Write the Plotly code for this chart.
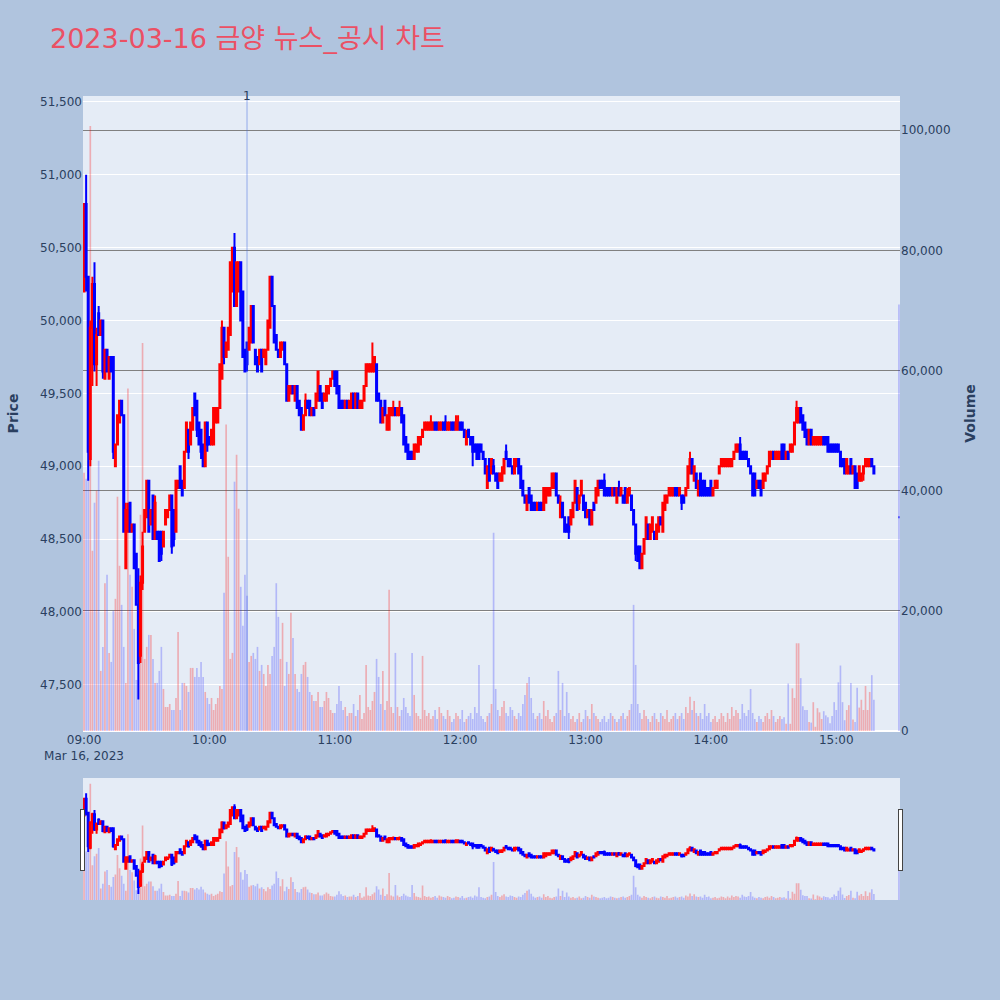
import pandas as pd
import plotly.graph_objects as go

# ---------------- data ----------------
trade_date = "2023-03-16"
title_text = "2023-03-16 금양 뉴스_공시 차트"
news_time = "2023-03-16 10:18"
news_label = "1"

# 09:00 - 11:07
opens_a = [50200,50800,50300,49050,49950,50250,49700,50050,49900,50000,
           49600,49800,49600,49750,49750,49000,49150,49300,49450,49350,
           48300,48550,48750,48550,48600,48400,48050,47700,48200,48550,
           48650,48900,48600,48800,48500,48550,48550,48550,48450,48600,
           48650,48700,48800,48700,48550,48850,49000,48900,48850,49100,
           49250,49150,49250,49500,49450,49300,49250,49150,49000,49300,
           49200,49150,49150,49300,49300,49400,49600,49950,49750,49800,
           49900,50200,50500,50100,50200,50400,50200,49800,49850,49800,
           49850,50100,49800,49750,49700,49800,49750,49700,49800,49950,
           50300,50100,49900,49800,49750,49800,49850,49700,49450,49500,
           49550,49450,49550,49450,49400,49250,49350,49450,49450,49350,
           49400,49400,49450,49550,49500,49450,49450,49500,49550,49600,
           49650,49650,49550,49450,49450,49400,49450,49400]
highs_a = [50800,51000,50300,50000,50300,50400,49950,50100,50000,50000,
           49800,49800,49750,49750,49750,49150,49350,49450,49450,49350,
           48750,48750,48750,48600,48600,48400,48300,48250,48550,48700,
           48900,48900,48700,48800,48800,48550,48550,48550,48550,48700,
           48700,48800,48800,48700,48900,48900,49000,48900,49100,49300,
           49250,49300,49400,49500,49450,49300,49250,49150,49300,49300,
           49200,49250,49400,49400,49400,49700,50000,49950,49850,49950,
           50400,50500,50600,50400,50400,50400,50200,49800,49850,49950,
           50100,50100,49800,49750,49800,49800,49800,49800,50000,50300,
           50300,50100,49900,49800,49850,49850,49850,49700,49550,49550,
           49550,49550,49550,49450,49400,49350,49500,49450,49450,49400,
           49400,49500,49650,49550,49500,49500,49550,49550,49600,49650,
           49650,49650,49550,49450,49450,49450,49450,49450]
lows_a = [50200,50200,48900,49000,49550,49650,49550,49900,49900,49600,
          49600,49650,49600,49650,49050,49000,49150,49300,49350,48550,
          48300,48550,48550,48550,48300,48050,47400,47650,48150,48550,
          48650,48550,48600,48500,48500,48500,48350,48350,48450,48600,
          48650,48700,48400,48450,48550,48850,48850,48800,48850,49100,
          49050,49150,49250,49350,49200,49150,49050,49000,49000,49100,
          49150,49150,49150,49300,49300,49400,49600,49700,49750,49800,
          49900,50200,50100,50100,50200,50000,49750,49650,49650,49800,
          49850,49850,49700,49650,49700,49650,49750,49700,49800,49950,
          50100,49850,49800,49750,49750,49800,49700,49450,49450,49500,
          49500,49450,49400,49350,49250,49250,49350,49400,49350,49350,
          49350,49400,49450,49450,49400,49450,49450,49500,49550,49600,
          49550,49500,49400,49400,49400,49400,49400,49400]
closes_a = [50800,50300,49100,49950,50250,49700,49900,49900,50000,49650,
            49800,49650,49750,49650,49100,49150,49350,49450,49350,48550,
            48700,48700,48550,48600,48300,48050,47650,48200,48450,48700,
            48900,48550,48700,48500,48750,48500,48350,48400,48550,48700,
            48700,48800,48450,48500,48900,48900,48850,48800,49100,49300,
            49100,49300,49400,49350,49250,49150,49100,49000,49300,49150,
            49150,49250,49400,49400,49400,49700,49950,49750,49850,49950,
            50400,50500,50100,50400,50400,50000,49750,49650,49700,49950,
            50100,49850,49700,49650,49800,49650,49800,49800,50000,50300,
            50100,49850,49800,49750,49850,49850,49700,49450,49550,49550,
            49500,49550,49400,49350,49250,49350,49450,49400,49350,49400,
            49350,49500,49650,49450,49400,49500,49550,49550,49600,49650,
            49550,49500,49400,49400,49400,49450,49400,49450]
volumes_a = [43000,42000,45000,100700,30000,38000,40000,45000,10000,14000,
             24600,26000,13000,11500,20000,22000,39000,27500,21000,14000,
             8000,57000,26000,24000,17000,8500,8500,36000,64600,12000,
             14000,16000,16000,12000,8000,8000,10000,14000,7000,4000,
             4000,4500,3500,3500,5500,16500,3500,8000,8000,7500,
             6500,10500,10500,9000,10500,9000,11500,9000,6500,5500,
             4500,5500,3500,4500,5500,7500,7000,23000,51000,29000,
             12000,13000,41500,46000,37000,24000,17500,26000,22500,11500,
             12500,13000,12000,14000,10000,11000,9500,7500,11000,9500,
             12500,14000,24600,19000,12000,18000,7500,11500,9500,19700,
             15500,9500,7000,6500,9500,11000,11500,9000,6500,6000,
             5000,5000,6500,4000,4000,5000,6500,5500,3500,3000,
             3000,4500,7500,5000,3500,4000,2500,3000]

# 11:08 - 13:23
opens_b = [49400,49500,49400,49500,49400,49400,49450,49550,49650,49650,
           49650,49650,49700,49500,49450,49300,49450,49250,49250,49350,
           49350,49400,49350,49350,49400,49350,49200,49150,49100,49100,
           49050,49100,49100,49150,49200,49250,49250,49250,49250,49250,
           49300,49300,49250,49250,49300,49300,49250,49250,49300,49300,
           49250,49250,49300,49300,49250,49150,49250,49200,49200,49150,
           49150,49150,49150,49100,49050,48850,49050,48950,49000,48950,
           48950,48900,48900,48950,49100,49050,49050,49000,48950,49000,
           49050,49000,48900,48800,48700,48850,48800,48750,48750,48700,
           48750,48750,48700,48750,48800,48800,48850,48850,48950,48800,
           48650,48750,48650,48600,48650,48600,48650,48750,48850,48750,
           48800,48800,48750,48650,48700,48600,48750,48750,48800,48900,
           48900,48900,48850,48850,48850,48800,48850,48750,48850,48800,
           48800,48850,48750,48800,48800,48700]
highs_b = [49500,49500,49500,49500,49450,49450,49550,49700,49700,49700,
           49850,49750,49700,49500,49450,49400,49450,49350,49400,49400,
           49450,49400,49400,49450,49400,49350,49200,49150,49100,49100,
           49150,49150,49200,49200,49250,49300,49300,49300,49350,49300,
           49300,49300,49300,49300,49300,49350,49300,49300,49300,49300,
           49350,49350,49300,49300,49250,49250,49250,49200,49200,49150,
           49150,49150,49150,49100,49050,49000,49050,49050,49050,48950,
           48950,48950,49000,49050,49150,49050,49050,49000,49050,49050,
           49050,49000,48900,48800,48800,48850,48800,48750,48750,48750,
           48750,48750,48850,48850,48850,48850,48950,48950,48950,48800,
           48800,48750,48650,48600,48650,48700,48750,48900,48850,48800,
           48900,48800,48750,48700,48700,48700,48750,48850,48900,48900,
           48900,48950,48850,48850,48850,48850,48850,48850,48900,48850,
           48800,48850,48850,48850,48800,48700]
lows_b = [49400,49400,49400,49400,49400,49400,49450,49550,49650,49650,
          49650,49650,49450,49450,49300,49300,49350,49250,49250,49350,
          49350,49350,49350,49350,49300,49150,49100,49050,49050,49050,
          49050,49100,49100,49150,49200,49250,49250,49250,49250,49250,
          49250,49250,49250,49250,49250,49250,49250,49250,49250,49250,
          49250,49250,49250,49250,49200,49150,49200,49150,49000,49100,
          49050,49050,49100,49050,48950,48850,48900,48950,48950,48900,
          48850,48900,48900,48950,49050,49000,49000,48950,48950,49000,
          48950,48850,48800,48750,48700,48750,48700,48700,48700,48700,
          48700,48700,48700,48750,48800,48800,48850,48850,48800,48750,
          48650,48650,48550,48550,48500,48600,48650,48750,48700,48700,
          48800,48700,48650,48650,48600,48600,48700,48750,48800,48850,
          48850,48800,48800,48800,48800,48800,48800,48750,48800,48800,
          48750,48750,48750,48800,48700,48600]
closes_b = [49500,49400,49500,49400,49450,49450,49550,49700,49700,49700,
            49700,49750,49450,49450,49300,49400,49350,49350,49400,49400,
            49400,49350,49400,49400,49300,49150,49100,49050,49050,49050,
            49150,49150,49200,49200,49250,49300,49300,49300,49300,49300,
            49250,49250,49300,49300,49250,49250,49300,49300,49250,49250,
            49300,49300,49250,49250,49200,49200,49200,49150,49100,49100,
            49050,49050,49100,49050,48950,49000,48900,49050,48950,48900,
            48850,48950,48950,49050,49050,49000,49000,48950,49050,49050,
            48950,48850,48800,48750,48800,48750,48700,48700,48700,48750,
            48700,48700,48850,48850,48850,48850,48950,48950,48800,48750,
            48750,48650,48550,48550,48550,48700,48750,48900,48700,48800,
            48900,48700,48650,48700,48600,48700,48700,48850,48900,48850,
            48850,48800,48800,48800,48800,48850,48800,48850,48800,48850,
            48750,48750,48800,48850,48700,48600]
volumes_b = [3000,4500,2500,3500,6000,2000,3000,11000,4000,3500,
             5000,6500,12000,9000,4500,10000,3500,5000,23500,4000,
             3000,13000,4000,2500,3500,5500,4000,3000,2500,13000,
             6000,3000,2500,2000,12500,3500,2500,3000,2000,2500,
             3500,2000,4000,3000,2500,2000,3500,2500,1500,2000,
             3000,2500,2000,3500,1500,2000,2500,3000,2000,4000,
             3000,11000,2500,2000,1500,2500,3000,4500,33000,7000,
             3500,2500,4000,5000,3000,2500,4000,3500,2500,2000,
             3000,2500,4500,6000,8000,9000,5500,3000,2000,2500,
             3000,2000,5000,2500,3500,2000,1500,2500,3000,10000,
             3500,8000,2500,6500,3000,2000,2500,1500,2000,3000,
             1500,2000,3500,2500,2000,4500,3000,2500,2000,1500,
             2000,2500,1500,2000,3000,2500,2000,1500,2000,2500,
             3000,2000,2500,3500,4500,21000]

# 13:24 - 15:18
opens_c = [48600,48450,48450,48300,48400,48500,48600,48500,48550,48550,
           48500,48550,48650,48550,48700,48750,48800,48800,48800,48850,
           48850,48800,48800,48800,48800,48850,48950,49050,48900,48950,
           48800,48950,48900,48900,48850,48850,48900,48800,48850,48850,
           48950,49000,49000,49000,49000,49000,49000,49050,49100,49100,
           49150,49100,49100,49100,49050,49000,48950,48950,48850,48900,
           48900,48850,48900,48950,49000,49050,49100,49050,49050,49050,
           49150,49150,49050,49100,49100,49100,49150,49300,49300,49400,
           49350,49300,49250,49150,49250,49150,49150,49150,49150,49150,
           49200,49200,49200,49150,49150,49150,49150,49150,49100,49050,
           49050,48950,48950,49050,48950,49000,48950,48900,48900,48950,
           49000,49000,49000,49050,49000]
highs_c = [48600,48450,48450,48400,48500,48650,48600,48600,48650,48550,
           48600,48650,48650,48750,48800,48800,48850,48850,48850,48850,
           48850,48850,48800,48800,48850,49000,49100,49050,49000,48950,
           48900,48950,48900,48900,48850,48850,48900,48850,48900,48900,
           49000,49050,49050,49050,49050,49050,49050,49100,49150,49150,
           49200,49100,49100,49100,49050,49000,48950,48950,48900,48900,
           48900,48950,48950,49000,49100,49100,49100,49100,49100,49100,
           49150,49150,49100,49100,49150,49150,49300,49450,49400,49400,
           49350,49300,49250,49250,49250,49200,49200,49200,49200,49200,
           49200,49200,49200,49150,49150,49150,49150,49150,49100,49050,
           49050,49050,49000,49050,49000,49000,48950,49000,48950,49000,
           49050,49050,49050,49050,49000]
lows_c = [48350,48350,48300,48300,48400,48500,48500,48500,48550,48500,
          48500,48550,48600,48550,48700,48750,48800,48800,48800,48800,
          48800,48800,48700,48750,48800,48850,48950,48950,48900,48850,
          48800,48800,48800,48800,48800,48800,48800,48800,48850,48850,
          48950,49000,49000,49000,49000,49000,49000,49050,49100,49100,
          49050,49050,49050,49050,49000,48950,48800,48800,48850,48850,
          48800,48850,48900,48950,49000,49050,49050,49050,49050,49050,
          49050,49050,49050,49050,49100,49100,49150,49300,49300,49300,
          49250,49200,49150,49150,49150,49150,49150,49150,49150,49150,
          49150,49150,49100,49100,49100,49100,49100,49100,49000,49000,
          48950,48950,48950,48950,48950,48850,48850,48900,48900,48900,
          49000,49000,49000,49000,48950]
closes_c = [48400,48350,48300,48400,48500,48650,48500,48600,48650,48500,
            48600,48650,48600,48750,48800,48800,48850,48850,48850,48800,
            48800,48850,48750,48750,48850,49000,49050,48950,49000,48850,
            48900,48800,48800,48800,48800,48800,48800,48850,48900,48900,
            49000,49050,49050,49050,49050,49050,49050,49100,49150,49150,
            49050,49050,49050,49050,49000,48950,48800,48800,48900,48850,
            48800,48950,48950,49000,49100,49100,49050,49100,49100,49100,
            49050,49050,49100,49050,49150,49150,49300,49400,49400,49300,
            49250,49200,49150,49250,49150,49200,49200,49200,49200,49200,
            49150,49150,49100,49100,49100,49100,49100,49100,49000,49000,
            48950,49050,49000,48950,49000,48850,48850,49000,48950,49000,
            49050,49050,49050,49000,48950]
volumes_c = [11000,4500,3000,2000,3500,2500,2000,1500,2500,3000,
             2000,1500,3000,2500,2000,3500,1500,2000,2500,3000,
             2000,2500,3000,2000,4000,3000,5700,3500,5000,3000,
             2500,3000,2000,4500,2500,3000,1500,2000,2500,1500,
             2000,3000,2500,1500,3000,2000,4000,2500,3500,3000,
             2000,4500,3000,2500,3500,7000,3000,2000,1500,2500,
             2000,1500,2500,3000,2000,3500,2500,1500,2000,2500,
             2000,2300,1200,7900,1200,7100,5500,14600,14600,8800,
             4100,3500,3500,1500,1400,4800,700,3800,3100,2000,
             3300,2600,2300,1300,2500,4800,3500,8100,10900,4800,
             1800,3500,4300,8000,1900,1500,7200,3900,5200,3500,
             7500,3500,6500,9300,5200]

# closing auction 15:30
close_auction_time = "2023-03-16 15:30"
close_auction_price = 48650
close_auction_volume = 71000

price_range = [47183, 51541]
volume_range = [0, 105700]
x_range = ["2023-03-16 08:59:30", "2023-03-16 15:30:30"]

# ---------------- assemble ----------------
opens = opens_a + opens_b + opens_c + [close_auction_price]
highs = highs_a + highs_b + highs_c + [close_auction_price]
lows = lows_a + lows_b + lows_c + [close_auction_price]
closes = closes_a + closes_b + closes_c + [close_auction_price]
volumes = volumes_a + volumes_b + volumes_c + [close_auction_volume]

n_cont = len(opens) - 1
times = list(pd.date_range(f"{trade_date} 09:00", periods=n_cont, freq="min"))
times.append(pd.Timestamp(close_auction_time))

UP = "red"
DOWN = "blue"
vol_colors = []
prev_c = None
inc = True
for o, c in zip(opens, closes):
    if c != o:
        inc = c > o
    elif prev_c is not None and c != prev_c:
        inc = c > prev_c
    vol_colors.append("rgba(255,0,0,0.27)" if inc else "rgba(0,0,255,0.22)")
    prev_c = c

FONT = "Verdana, DejaVu Sans, Noto Sans CJK KR, sans-serif"

fig = go.Figure()
fig.add_trace(go.Candlestick(
    x=times, open=opens, high=highs, low=lows, close=closes,
    increasing=dict(line=dict(color=UP, width=2), fillcolor=UP),
    decreasing=dict(line=dict(color=DOWN, width=2), fillcolor=DOWN),
    name="Price", yaxis="y", showlegend=False,
))
fig.add_trace(go.Bar(
    x=times, y=volumes, marker=dict(color=vol_colors, line=dict(width=0)),
    name="Volume", yaxis="y2", showlegend=False,
))

fig.add_shape(type="line", xref="x", yref="paper", x0=news_time, x1=news_time,
              y0=0, y1=1, line=dict(color="rgba(65,105,225,0.5)", width=1))
fig.add_annotation(x=news_time, xref="x", y=1, yref="paper", text=news_label,
                   showarrow=False, yanchor="middle",
                   font=dict(size=12, color="#2a3f5f", family=FONT))

fig.update_layout(
    width=1000, height=1000,
    paper_bgcolor="#B0C4DE",
    plot_bgcolor="#E5ECF6",
    font=dict(family=FONT, size=12, color="#2a3f5f"),
    title=dict(text=title_text, x=0.05,
               font=dict(size=27, color="rgb(235,80,100)", family=FONT)),
    margin=dict(l=82, r=100, t=96, b=100),
    showlegend=False,
    xaxis=dict(type="date", range=x_range, showgrid=False,
               rangeslider=dict(visible=True, thickness=0.152,
                                bgcolor="#E5ECF6")),
    yaxis=dict(title=dict(text="<b>Price</b>", font=dict(size=14), standoff=18),
               range=price_range, tickformat=",", gridcolor="white",
               showgrid=True, zeroline=False),
    yaxis2=dict(title=dict(text="<b>Volume</b>", font=dict(size=14)),
                overlaying="y", side="right", range=volume_range,
                tickformat=",", showgrid=True, gridcolor="gray",
                zeroline=True, zerolinecolor="white", zerolinewidth=2),
)

fig.write_html("out.html", config={"displayModeBar": False},
               post_script="document.body.style.margin='0px';")
